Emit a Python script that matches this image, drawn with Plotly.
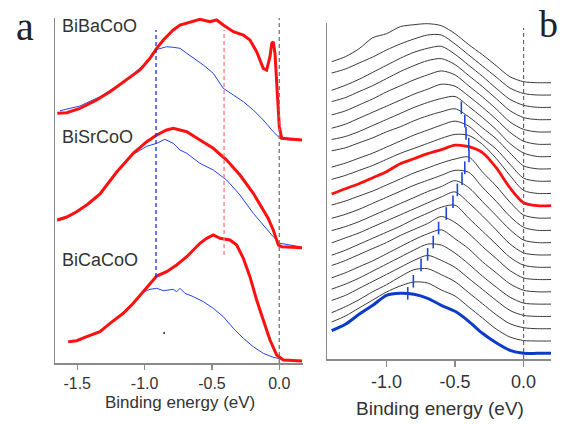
import plotly.graph_objects as go

# ---------------- Panel a data (binding energy in eV, intensity in arb. units) ----------------
ba_red_E = [-1.648, -1.578, -1.480, -1.356, -1.257, -1.133, -1.034, -0.960, -0.910, -0.861, -0.787, -0.737,
            -0.638, -0.589, -0.515, -0.465, -0.416, -0.341, -0.267, -0.218, -0.168, -0.119, -0.094, -0.069,
            -0.056, -0.045, -0.032, -0.019, 0.000, 0.018, 0.154, 0.169]
ba_red_I = [249.7, 250.3, 254.7, 263.0, 271.3, 283.0, 293.0, 304.7, 314.7, 323.0, 333.0, 338.0,
            341.3, 343.7, 341.3, 343.0, 338.0, 331.3, 328.0, 323.0, 311.3, 294.7, 293.0, 306.3,
            319.7, 321.3, 309.7, 276.3, 236.3, 224.7, 223.0, 223.0]
ba_blue_E = [-1.628, -1.480, -1.331, -1.133, -1.010, -0.947, -0.923, -0.886, -0.836, -0.787, -0.737, -0.687,
             -0.613, -0.564, -0.490, -0.416, -0.341, -0.267, -0.193, -0.119, -0.045, 0.005, 0.079, 0.154]
ba_blue_I = [252.3, 257.0, 266.3, 283.0, 298.0, 308.0, 313.0, 314.7, 316.3, 315.7, 314.7, 309.7,
             303.0, 298.0, 289.7, 274.7, 268.0, 261.3, 253.0, 243.0, 231.3, 224.7, 223.0, 223.0]

sr_red_E = [-1.648, -1.578, -1.504, -1.420, -1.331, -1.207, -1.084, -0.984, -0.910, -0.836, -0.787, -0.687,
            -0.589, -0.490, -0.391, -0.292, -0.193, -0.119, -0.084, -0.045, -0.007, 0.018, 0.169]
sr_red_I = [143.0, 146.0, 151.3, 159.0, 169.0, 191.0, 209.7, 221.3, 228.0, 233.0, 234.7, 231.3,
            223.0, 214.7, 203.0, 188.0, 169.7, 153.0, 145.0, 133.0, 118.0, 116.3, 115.3]
sr_blue_E = [-1.648, -1.578, -1.504, -1.420, -1.331, -1.207, -1.084, -0.984, -0.910, -0.849, -0.787, -0.737,
             -0.687, -0.589, -0.490, -0.391, -0.292, -0.193, -0.119, -0.045, 0.005, 0.154]
sr_blue_I = [142.0, 145.0, 150.5, 158.0, 168.0, 190.0, 208.7, 216.7, 219.7, 223.7, 219.7, 213.0,
             209.7, 199.7, 193.0, 183.0, 168.0, 149.7, 138.0, 126.3, 119.7, 116.3]

ca_red_E = [-1.566, -1.504, -1.430, -1.331, -1.257, -1.158, -1.084, -1.010, -0.935, -0.910, -0.836, -0.762,
            -0.687, -0.638, -0.589, -0.539, -0.490, -0.440, -0.366, -0.316, -0.267, -0.218, -0.168, -0.119,
            -0.069, -0.019, 0.030, 0.169]
ca_red_I = [21.3, 22.3, 26.3, 31.3, 39.7, 49.7, 59.7, 71.3, 83.0, 87.0, 91.3, 98.0,
            106.3, 113.0, 119.7, 124.7, 128.0, 124.7, 123.0, 118.0, 104.7, 86.3, 63.0, 43.0,
            23.0, 8.0, 3.0, 2.0]
ca_blue_E = [-1.566, -1.504, -1.430, -1.331, -1.257, -1.158, -1.084, -1.010, -0.960, -0.910, -0.861, -0.811,
             -0.787, -0.762, -0.737, -0.700, -0.638, -0.564, -0.490, -0.416, -0.341, -0.267, -0.193, -0.119,
             -0.045, 0.055, 0.154]
ca_blue_I = [21.0, 22.0, 25.8, 30.8, 39.0, 49.0, 59.0, 70.8, 73.7, 74.7, 72.3, 73.0,
             73.7, 71.3, 74.7, 69.7, 66.3, 61.3, 54.7, 46.3, 34.7, 24.7, 16.3, 9.7,
             5.7, 3.0, 2.3]

sample_names = ["BiBaCoO", "BiSrCoO", "BiCaCoO"]
sample_label_I = [337, 226, 103]

a_markers_E = [-0.915, -0.41, 0.0]          # dashed guide positions
a_markers_top = [333, 333, 345]
a_markers_bottom = [86, 108, 0]

a_speck_E = [-0.855]
a_speck_I = [30]

a_tick_vals = [-1.5, -1.0, -0.5, 0.0]
a_tick_text = ["-1.5", "-1.0", "-0.5", "0.0"]

# ---------------- Panel b data ----------------
b_energy = [-1.4, -1.3, -1.2, -1.1, -1.0, -0.9, -0.8, -0.7, -0.6, -0.5, -0.4, -0.3, -0.2, -0.1, 0.0, 0.1, 0.2]
# heights of each spectrum above its own flat baseline, listed top to bottom
b_spectra = [
    [21, 26, 34, 45, 49, 56, 58, 59, 57, 49, 38, 28, 17, 6, 1, 0, 0],
    [22, 26, 32, 38, 45, 51, 56, 60, 60, 51, 40, 29, 18, 7, 1.5, 0, 0],
    [17, 22, 28, 35, 42, 49, 55, 59, 61, 53, 42, 31, 19, 8, 2, 0, 0],
    [18, 22, 28, 34, 41, 48, 54, 59, 61, 55, 44, 33, 21, 9, 2, 0, 0],
    [17, 21, 27, 33, 40, 46, 52, 57, 61, 57, 46, 35, 23, 10, 2.5, 0, 0],
    [16, 20, 26, 32, 38, 44, 50, 55, 60, 58, 48, 37, 25, 12, 3, 0, 0],
    [17, 20, 25, 31, 37, 43, 49, 54, 58, 60, 50, 39, 27, 13, 3.5, 0, 0],
    [18, 21, 26, 31, 37, 42, 48, 53, 57, 60, 52, 41, 30, 16, 3, 0, 0],
    [14, 18, 23, 28, 34, 40, 46, 51, 56, 60, 55, 43, 32, 17, 3, 0, 0],
    [14, 18, 23, 28, 34, 40, 45, 50, 55, 59, 58, 49, 35, 18, 3, 0, 0],
    [11.7, 17, 22, 28, 34, 42, 47, 52, 56, 60.5, 59, 53, 38, 18, 3, 0, 0],
    [13, 17, 22, 27, 33, 39, 45, 50, 55, 59, 61, 46, 32, 16, 3, 0, 0],
    [12, 16, 21, 27, 33, 39, 45, 50, 55, 60, 58, 43, 29, 14, 3, 0, 0],
    [12, 16, 21, 27, 33, 39, 45, 51, 56, 62, 55, 41, 27, 13, 2.5, 0, 0],
    [12, 17, 22, 28, 34, 40, 46, 52, 58, 63, 52, 39, 25, 11, 2, 0, 0],
    [12, 17, 23, 29, 35, 41, 48, 54, 60, 62, 49, 36, 23, 10, 2, 0, 0],
    [14, 19, 25, 31, 37, 44, 50, 56, 63, 57, 46, 33, 21, 9, 1.5, 0, 0],
    [14, 19, 25, 31, 38, 45, 52, 58, 62, 53, 43, 30, 19, 8, 1.5, 0, 0],
    [15, 20, 26, 33, 40, 47, 54, 60, 59, 51, 40, 28, 17, 7, 1, 0, 0],
    [16, 21, 28, 35, 42, 49, 56, 61, 56, 49, 38, 27, 16, 6, 1, 0, 0],
    [16, 22, 29, 37, 44, 52, 59, 60, 54, 47, 36, 25, 14, 5, 1, 0, 0],
    [19, 25, 33, 41, 49, 55, 59, 58, 51, 45, 34, 23, 12, 4, 0.5, 0, 0],
    [22.6, 29, 39, 48, 58, 60, 59, 55, 48, 42, 32, 20, 10.5, 3, 0, 0, 0],
]
b_red_index = 10
b_blue_index = 22
b_offset_step = 12.3
b_offset_base = 5.7

b_peak_curve = [7, 8, 9, 10, 11, 12, 13, 14, 15, 16, 17, 18, 19, 20, 21, 22]
b_peak_E = [-0.454, -0.429, -0.420, -0.400, -0.398, -0.429, -0.449, -0.483, -0.515, -0.564,
            -0.620, -0.659, -0.700, -0.748, -0.804, -0.845]
b_peak_I = [61, 60, 60, 61.5, 62, 62.5, 64, 65, 65.5, 66, 63.7, 62, 62, 63.8, 59.7, 60]

b_tick_vals = [-1.0, -0.5, 0.0]
b_tick_text = ["-1.0", "-0.5", "0.0"]

# ---------------- styles ----------------
RED = "#ff1010"
BLUE_A = "#2343e8"
BLUE_B = "#0b3cc8"
AXIS = "#8a8a8a"
TXT = "#333333"
FONT = "Liberation Sans, Arial, sans-serif"

W, H = 566, 424


def px(xp):
    return xp / W


def py(yp):
    return 1 - yp / H


fig = go.Figure()

# panel a spectra
for E, I, col, w in [
    (ba_blue_E, ba_blue_I, BLUE_A, 1), (ba_red_E, ba_red_I, RED, 3),
    (sr_blue_E, sr_blue_I, BLUE_A, 1), (sr_red_E, sr_red_I, RED, 3),
    (ca_blue_E, ca_blue_I, BLUE_A, 1), (ca_red_E, ca_red_I, RED, 3),
]:
    fig.add_trace(go.Scatter(x=E, y=I, mode="lines", line=dict(color=col, width=w, shape="linear"),
                             xaxis="x", yaxis="y", showlegend=False, hoverinfo="skip"))

for E, top, bot, col in zip(a_markers_E, a_markers_top, a_markers_bottom, ["#1a2ee8", "#ff7a7a", "#777777"]):
    fig.add_trace(go.Scatter(x=[E, E], y=[bot, top], mode="lines",
                             line=dict(color=col, width=1.3, dash="4px,3px"),
                             xaxis="x", yaxis="y", showlegend=False, hoverinfo="skip"))

fig.add_trace(go.Scatter(x=a_speck_E, y=a_speck_I, mode="markers", marker=dict(size=2, color="#222222"),
                         xaxis="x", yaxis="y", showlegend=False, hoverinfo="skip"))

# panel b spectra
n = len(b_spectra)
for k, h in enumerate(b_spectra):
    base = b_offset_base + (n - 1 - k) * b_offset_step
    if k == b_red_index:
        col, w = RED, 2.8
    elif k == b_blue_index:
        col, w = BLUE_B, 3
    else:
        col, w = "#3a3a3a", 1
    fig.add_trace(go.Scatter(x=b_energy, y=[base + v for v in h], mode="lines",
                             line=dict(color=col, width=w, shape="spline", smoothing=0.8),
                             xaxis="x2", yaxis="y2", showlegend=False, hoverinfo="skip"))

fig.add_trace(go.Scatter(x=[0, 0], y=[0, 331], mode="lines", line=dict(color="#666666", width=1.2, dash="4px,3px"),
                         xaxis="x2", yaxis="y2", showlegend=False, hoverinfo="skip"))

peak_y = [b_offset_base + (n - 1 - c) * b_offset_step + v for c, v in zip(b_peak_curve, b_peak_I)]
fig.add_trace(go.Scatter(x=b_peak_E, y=peak_y, mode="markers",
                         marker=dict(symbol="line-ns-open", size=9, color="#1d44d8",
                                     line=dict(color="#1d44d8", width=1.6)),
                         xaxis="x2", yaxis="y2", showlegend=False, hoverinfo="skip"))

fig.update_layout(
    width=W, height=H, margin=dict(l=0, r=0, t=0, b=0),
    paper_bgcolor="white", plot_bgcolor="white",
    font=dict(family=FONT, color=TXT),
    hovermode=False, dragmode=False,
    xaxis=dict(domain=[px(55), px(303)], range=[-1.665, 0.176], showgrid=False, zeroline=False,
               showline=True, linecolor=AXIS, linewidth=1.5, ticks="outside", ticklen=5, tickwidth=1.2,
               tickcolor=AXIS, tickvals=a_tick_vals, ticktext=a_tick_text, tickfont=dict(size=16, color=TXT),
               anchor="y"),
    yaxis=dict(domain=[py(363), py(18)], range=[0, 345], showgrid=False, zeroline=False,
               showline=True, linecolor=AXIS, linewidth=1.5, showticklabels=False, ticks="", anchor="x"),
    xaxis2=dict(domain=[px(327), px(551)], range=[-1.434, 0.2], showgrid=False, zeroline=False,
                showline=True, linecolor=AXIS, linewidth=1.5, ticks="outside", ticklen=6, tickwidth=1.2,
                tickcolor=AXIS, tickvals=b_tick_vals, ticktext=b_tick_text, tickfont=dict(size=18, color=TXT),
                anchor="y2"),
    yaxis2=dict(domain=[py(359), py(23)], range=[0, 336], showgrid=False, zeroline=False,
                showline=True, linecolor=AXIS, linewidth=1.5, showticklabels=False, ticks="", anchor="x2"),
)

ann = []
for name, yv in zip(sample_names, sample_label_I):
    ann.append(dict(x=-1.625, y=yv, xref="x", yref="y", text=name, showarrow=False, xanchor="left",
                    yanchor="middle", font=dict(size=18, color=TXT, family=FONT)))
ann.append(dict(x=px(180), y=py(402), xref="paper", yref="paper", text="Binding energy (eV)",
                showarrow=False, xanchor="center", yanchor="middle", font=dict(size=17, color=TXT, family=FONT)))
ann.append(dict(x=px(440), y=py(408), xref="paper", yref="paper", text="Binding energy (eV)",
                showarrow=False, xanchor="center", yanchor="middle", font=dict(size=19, color=TXT, family=FONT)))
ann.append(dict(x=px(25), y=py(27), xref="paper", yref="paper", text="a", showarrow=False,
                xanchor="center", yanchor="middle", font=dict(size=40, color="#222222", family="Liberation Serif, serif")))
ann.append(dict(x=px(548), y=py(24), xref="paper", yref="paper", text="b", showarrow=False,
                xanchor="center", yanchor="middle", font=dict(size=38, color="#222222", family="Liberation Serif, serif")))
fig.update_layout(annotations=ann)

# remove the page's default body margin so the figure fills the 566x424 window exactly
fig.write_html("out.html", config={"displayModeBar": False, "staticPlot": True},
               post_script="document.body.style.margin='0px';document.body.style.overflow='hidden';")
